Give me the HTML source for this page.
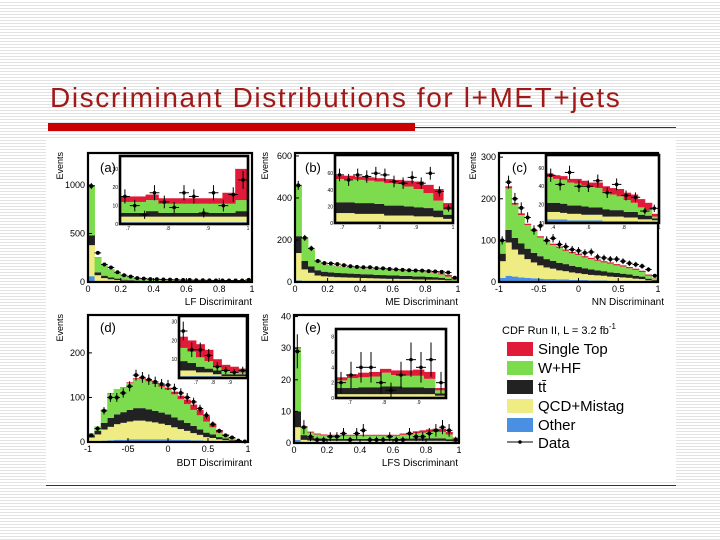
<!DOCTYPE html>
<html><head><meta charset="utf-8"><style>
html,body{margin:0;padding:0;}
body{width:720px;height:540px;position:relative;overflow:hidden;background:#fff repeating-linear-gradient(to bottom,#fff 0,#fff 2px,#e2e2e2 2px,#e2e2e2 3px);font-family:"Liberation Sans",sans-serif;}
#title{position:absolute;left:50px;top:82px;font-size:28px;color:#a01818;white-space:nowrap;letter-spacing:1.6px;}
#redbar{position:absolute;left:48px;top:123px;width:367px;height:8px;background:#c80000;}
#redline{position:absolute;left:415px;top:127px;width:261px;height:1px;background:#b00000;}
#fig{position:absolute;left:46px;top:138px;width:630px;height:342px;background:#fff;}
#botline{position:absolute;left:46px;top:485px;width:630px;height:1px;background:#b00000;}
svg{position:absolute;left:0;top:0;}
</style></head><body>
<div id="title">Discriminant Distributions for l+MET+jets</div>
<div id="redbar"></div>
<div id="redline"></div>
<div id="fig"></div>
<div id="botline"></div>
<svg id="chart" width="720" height="540"></svg>
<script>
// ---- Panel (a) LF discriminant ----
const aOther=[60,10,5,3,2,2,1,1,1,1,1,1,1,1,1,1,1,1,1,1,1,1,1,1,1];
const aQcd=[320,60,35,25,18,12,9,7,6,5,5,4,4,4,3,3,3,3,3,3,3,3,3,3,3];
const aTt=[100,30,25,20,15,10,8,6,5,4,4,4,3,3,3,3,3,3,3,3,3,3,3,3,4];
const aWhf=[510,150,100,80,55,35,25,18,14,12,10,9,8,7,7,6,6,6,5,5,5,5,5,5,8];
const aStop=[10,5,3,3,2,2,2,2,2,2,2,2,2,2,2,2,2,2,2,2,2,2,2,3,8];
const aData=[990,300,180,150,100,70,55,40,35,30,28,26,24,22,20,20,18,18,17,16,15,16,15,15,22];
const aiOther=[1,1,1,1,1,1,1,1,1,1];
const aiQcd=[3,3,3,3,3,3,3,3,3,3];
const aiTt=[2,2,3,2,2,2,2,2,2,3];
const aiWhf=[6,6,6,5,5,5,5,5,5,6];
const aiStop=[3,3,3,3,3,3,3,3,6,17];
const aiData=[15,10,5,17,12,9,17,15,6,17,10,16,24];
// ---- Panel (b) ME discriminant ----
const bOther=[8,5,4,3,3,3,3,3,3,3,3,3,3,3,3,3,3,3,2,2,2,2,2,2,1];
const bQcd=[130,55,40,28,24,22,20,19,18,17,16,15,14,13,12,12,11,11,10,10,9,9,8,6,3];
const bTt=[80,40,30,25,22,21,20,20,19,19,18,18,17,17,16,16,15,15,14,14,13,12,10,6,2];
const bWhf=[240,110,80,40,34,33,32,30,30,28,28,28,27,27,27,26,26,25,24,24,22,20,16,12,5];
const bStop=[2,1,1,1,1,1,1,1,1,1,1,1,1,1,1,1,1,1,1,2,2,3,5,8,6];
const bData=[460,210,160,100,90,88,85,80,75,72,70,70,66,65,62,60,58,56,55,54,52,50,48,45,20];
const biOther=[2,2,2,2,2,1,1,1,1,1,1,1];
const biQcd=[10,10,9,9,9,8,8,8,7,7,6,4];
const biTt=[13,13,13,13,12,12,12,11,11,10,8,5];
const biWhf=[28,28,28,27,27,27,26,24,22,18,12,6];
const biStop=[4,4,4,4,4,5,5,7,9,10,14,8];
const biData=[58,52,58,56,60,58,50,48,55,48,60,38,18];
// ---- Panel (c) NN discriminant ----
const cOther=[10,15,13,11,10,9,8,7,7,6,6,5,5,5,4,4,4,3,3,3,3,2,2,1,1];
const cQcd=[40,80,65,55,45,38,32,28,25,22,20,18,16,14,13,12,11,10,9,8,7,6,5,3,2];
const cTt=[18,30,28,27,25,23,22,20,19,18,17,16,15,14,13,12,11,10,10,9,8,7,6,4,2];
const cWhf=[30,100,80,68,57,52,45,42,38,36,32,30,29,26,25,23,21,21,18,17,15,14,11,7,4];
const cStop=[2,5,4,4,3,3,3,3,3,3,3,3,3,3,3,3,3,3,3,3,3,3,3,3,1];
const cData=[100,240,200,178,155,125,135,100,105,90,85,78,75,70,72,60,58,55,55,50,45,42,38,30,15];
const ciOther=[4,4,4,3,3,3,3,3,2,2,2,2,2,1,1,1];
const ciQcd=[8,8,7,7,7,6,6,6,5,5,5,4,4,3,3,2];
const ciTt=[10,10,10,9,9,9,8,8,8,7,7,6,6,5,4,2];
const ciWhf=[28,26,26,25,24,23,22,21,19,17,15,13,10,8,6,2];
const ciStop=[4,4,4,4,5,5,5,6,6,7,8,8,9,9,8,3];
const ciData=[52,42,55,40,40,46,33,42,30,28,13,16];
// ---- Panel (d) BDT discriminant ----
const dOther=[2,2,3,4,5,5,6,6,6,6,6,6,6,5,5,5,4,4,3,3,2,1,1,0,0];
const dQcd=[8,15,25,30,35,38,40,42,42,40,38,35,32,28,24,20,16,12,8,6,4,3,2,1,0];
const dTt=[4,8,15,20,22,24,26,28,28,27,26,25,24,22,20,18,16,12,10,8,5,4,2,1,0];
const dWhf=[6,10,30,55,55,55,60,65,65,63,60,58,55,52,47,42,36,32,25,16,10,6,3,1,0];
const dStop=[0,0,0,1,1,1,2,2,2,3,3,4,5,6,8,10,12,12,12,8,6,3,2,1,0];
const dData=[15,30,70,100,100,110,125,150,145,140,135,130,128,120,110,100,90,75,60,40,25,15,10,3,1];
const diOther=[1,1,1,1,1,0,0,0];
const diQcd=[3,3,2,2,1,1,1,1];
const diTt=[5,4,3,2,2,1,1,1];
const diWhf=[7,6,5,4,2,2,1,1];
const diStop=[6,6,7,6,4,3,3,2];
const diData=[25,15,15,12,6,4,3,4];
// ---- Panel (e) LFS discriminant ----
const eOther=[1,0.3,0.3,0.3,0.3,0.3,0.3,0.3,0.3,0.3,0.3,0.3,0.3,0.3,0.3,0.3,0.3,0.3,0.3,0.3,0.3,0.3,0.3,0.3,0.3];
const eQcd=[4,0.7,0.5,0.4,0.4,0.4,0.4,0.4,0.4,0.4,0.4,0.4,0.4,0.4,0.4,0.4,0.4,0.4,0.4,0.4,0.4,0.4,0.4,0.3,0.2];
const eTt=[5,1.5,1,0.8,0.7,0.6,0.6,0.6,0.6,0.6,0.6,0.6,0.6,0.6,0.6,0.6,0.7,0.7,0.8,0.8,0.8,0.8,0.8,0.6,0.3];
const eWhf=[20,2.5,1.5,1.2,1,1,1,1,1,1,1,1,1,1,1,1,1.2,1.3,1.6,1.8,2,2,2,1.5,0.6];
const eStop=[0.3,0.3,0.3,0.3,0.3,0.3,0.3,0.3,0.3,0.3,0.3,0.3,0.3,0.3,0.3,0.3,0.4,0.5,0.6,0.7,0.8,1,1,0.8,0.3];
const eData=[29,5,2,1,1,2,2,3,1,3,4,1,1,1,2,1,1,3,2,2,3,4,5,4,1];
const eiOther=[0.1,0.1,0.1,0.1,0.1,0.1,0.1,0.1,0.1,0.1];
const eiQcd=[0.4,0.4,0.4,0.4,0.4,0.4,0.4,0.4,0.4,0.2];
const eiTt=[0.8,0.8,0.9,0.9,1,1,0.9,0.9,0.8,0.3];
const eiWhf=[1,1.3,1.3,1.4,1.8,1.5,1.5,1.5,1.2,0.4];
const eiStop=[0.4,0.5,0.6,0.6,0.5,0.6,0.7,0.8,0.9,0.3];
const eiData=[2,3,4,4,2,1,3,5,4,5,2];
// ---- Axis tick labels ----
const ticksXa=[0,0.2,0.4,0.6,0.8,1];
const ticksXc=[-1,-0.5,0,0.5,1];
const ticksYa=[0,500,1000];
const ticksYb=[0,200,400,600];
const ticksYc=[0,100,200,300];
const ticksYd=[0,100,200];
const ticksYe=[0,10,20,30,40];

const COL=['#4a90e2','#eeec82','#222222','#7ddc4e','#e21a3a'];
const NS='http://www.w3.org/2000/svg';
const svg=document.getElementById('chart');
function el(tag,attrs,parent){const e=document.createElementNS(NS,tag);for(const k in attrs)e.setAttribute(k,attrs[k]);(parent||svg).appendChild(e);return e;}
function txt(s,x,y,size,anchor,parent){const t=el('text',{x:x,y:y,'font-size':size,'text-anchor':anchor||'middle','font-family':'Liberation Sans, sans-serif',fill:'#000'},parent);t.textContent=s;return t;}

function hist(name,box,dom,stacks,data,isInset){
  const g=el('g',{});
  
  
  const [X0,Y0,X1,Y1]=box,[xmin,xmax,ymax]=dom;
  const sx=v=>X0+(v-xmin)/(xmax-xmin)*(X1-X0);
  const sy=v=>Y1-Math.min(v,ymax)/ymax*(Y1-Y0);
  el('rect',{x:X0,y:Y0,width:X1-X0,height:Y1-Y0,fill:'#fff'},g);
  const n=stacks[0].length,w=(xmax-xmin)/n;
  const cum=new Array(n).fill(0);
  const names=['other','qcd-mistag','ttbar','w-hf','single-top'];
  stacks.forEach((arr,k)=>{
    for(let i=0;i<n;i++){
      const lo=cum[i],hi=cum[i]+arr[i];cum[i]=hi;
      if(arr[i]<=0)continue;
      const r=el('rect',{x:sx(xmin+i*w),y:sy(hi),width:sx(xmin+(i+1)*w)-sx(xmin+i*w)+0.4,height:Math.max(0,sy(lo)-sy(hi)),fill:COL[k]},g);
      
      
    }
  });
  const m=data.length,dw=(xmax-xmin)/m;
  for(let i=0;i<m;i++){
    const v=data[i],cx=sx(xmin+(i+0.5)*dw),cy=sy(v),e=Math.sqrt(v);
    const p=el('g',{},g);
    
    
    el('line',{x1:cx,x2:cx,y1:sy(v+e),y2:sy(Math.max(0,v-e)),stroke:'#000','stroke-width':1},p);
    el('line',{x1:sx(xmin+i*dw),x2:sx(xmin+(i+1)*dw),y1:cy,y2:cy,stroke:'#000','stroke-width':1},p);
    el('circle',{cx:cx,cy:cy,r:isInset?1.8:2,fill:'#000'},p);
  }
  el('rect',{x:X0,y:Y0,width:X1-X0,height:Y1-Y0,fill:'none',stroke:'#000','stroke-width':isInset?2.6:2.2},g);
  return {g,sx,sy};
}
function axes(h,xt,yt,box,fmt){
  const [X0,Y0,X1,Y1]=box;
  xt.forEach(v=>{txt(fmt?fmt(v):String(v),h.sx(v),Y1+10,9,'middle',h.g);el('line',{x1:h.sx(v),x2:h.sx(v),y1:Y1,y2:Y1-4,stroke:'#000'},h.g);});
  yt.forEach(v=>{txt(String(v),X0-3,h.sy(v)+3,9,'end',h.g);el('line',{x1:X0,x2:X0+4,y1:h.sy(v),y2:h.sy(v),stroke:'#000'},h.g);});
}
function insetAxes(h,xt,yt,box){
  const [X0,Y0,X1,Y1]=box;
  xt.forEach(v=>txt(String(v).replace(/^0/,''),h.sx(v),Y1+6,5,'middle',h.g));
  yt.forEach(v=>txt(String(v),X0-2,h.sy(v)+2,5,'end',h.g));
}
function label(s,x,y,name){const t=txt(s,x,y,13,'start');}
function ytitle(x,y){const t=txt('Events',x,y,9,'end');t.setAttribute('transform','rotate(-90 '+x+' '+y+')');}
function xtitle(s,x,y){const t=txt(s,x,y,10,'end');}

// (a)
let B=[88,153,252,282];
let h=hist('panel-a-main',B,[0,1,1330],[aOther,aQcd,aTt,aWhf,aStop],aData,false);
axes(h,ticksXa,ticksYa,B);ytitle(63,152);xtitle('LF Discrimirant',252,305);label('(a)',100,172,'panel-a-label');
B=[120,156,248,224];h=hist('panel-a-inset',B,[0.68,1,37],[aiOther,aiQcd,aiTt,aiWhf,aiStop],aiData,true);insetAxes(h,[0.7,0.8,0.9,1],[0,10,20,30],B);
// (b)
B=[295,153,458,282];
h=hist('panel-b-main',B,[0,1,614],[bOther,bQcd,bTt,bWhf,bStop],bData,false);
axes(h,ticksXa,ticksYb,B);ytitle(268,152);xtitle('ME Discriminant',458,305);label('(b)',305,172,'panel-b-label');
B=[335,155,453,223];h=hist('panel-b-inset',B,[0.68,1,82],[biOther,biQcd,biTt,biWhf,biStop],biData,true);insetAxes(h,[0.7,0.8,0.9,1],[0,20,40,60],B);
// (c)
B=[499,153,658,282];
h=hist('panel-c-main',B,[-1,1,310],[cOther,cQcd,cTt,cWhf,cStop],cData,false);
axes(h,ticksXc,ticksYc,B);ytitle(476,152);xtitle('NN Discriminant',664,305);label('(c)',512,172,'panel-c-label');
B=[546,155,659,223];h=hist('panel-c-inset',B,[0.36,1,74],[ciOther,ciQcd,ciTt,ciWhf,ciStop],ciData,true);insetAxes(h,[0.4,0.6,0.8,1],[0,20,40,60],B);
// (d)
B=[88,315,248,442];
h=hist('panel-d-main',B,[-1,1,285],[dOther,dQcd,dTt,dWhf,dStop],dData,false);
axes(h,ticksXc,ticksYd,B,v=>v===-0.5?'-05':String(v));ytitle(63,314);xtitle('BDT Discrimirant',252,466);label('(d)',100,332,'panel-d-label');
B=[179,316,247,378];h=hist('panel-d-inset',B,[0.6,1,33],[diOther,diQcd,diTt,diWhf,diStop],diData,true);insetAxes(h,[0.7,0.8,0.9],[10,20,30],B);
// (e)
B=[294,315,459,443];
h=hist('panel-e-main',B,[0,1,40.5],[eOther,eQcd,eTt,eWhf,eStop],eData,false);
axes(h,ticksXa,ticksYe,B);ytitle(268,314);xtitle('LFS Discriminant',458,466);label('(e)',305,332,'panel-e-label');
B=[336,329,446,398];h=hist('panel-e-inset',B,[0.66,0.98,9],[eiOther,eiQcd,eiTt,eiWhf,eiStop],eiData,true);insetAxes(h,[0.7,0.8,0.9],[0,2,4,6,8],B);

// legend
const lg=el('g',{});


const t0=txt('CDF Run II, L = 3.2 fb',502,334,11,'start',lg);
const sup=el('tspan',{dy:-5,'font-size':8},t0);
sup.textContent='-1';
const entries=[['Single Top',COL[4]],['W+HF',COL[3]],['tt\u0304',COL[2]],['QCD+Mistag',COL[1]],['Other',COL[0]]];
entries.forEach((e,i)=>{
  const y=342+i*19;
  const eg=el('g',{},lg);
  
  
  el('rect',{x:507,y:y,width:26,height:14,fill:e[1]},eg);
  txt(e[0],538,y+12,15,'start',eg);
});
const dg=el('g',{},lg);


el('line',{x1:507,x2:533,y1:442,y2:442,stroke:'#000'},dg);
el('circle',{cx:520,cy:442,r:1.8,fill:'#000'},dg);
txt('Data',538,448,15,'start',dg);
</script>
</body></html>
